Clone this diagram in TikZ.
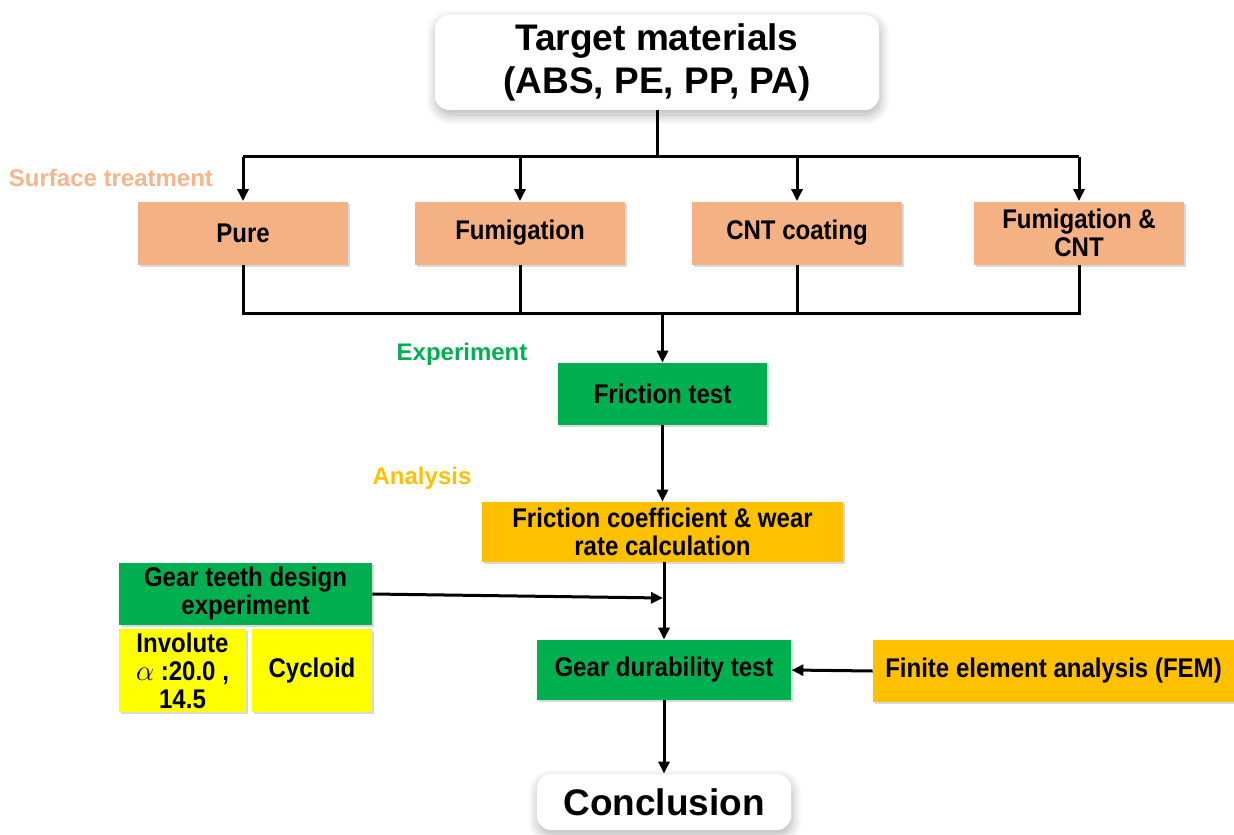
\documentclass[tikz,border=0pt]{standalone}
\usepackage{fontspec}
\setmainfont{Liberation Sans}
\newfontfamily\condfont{Liberation Sans}[FakeStretch=0.89]
\usetikzlibrary{arrows.meta,shadows,shadows.blur}
\definecolor{boxorange}{HTML}{F4B183}
\definecolor{boxgreen}{HTML}{00B050}
\definecolor{boxgold}{HTML}{FFC000}
\definecolor{boxyellow}{HTML}{FFFF00}
\definecolor{lblorange}{HTML}{F6B58C}
\begin{document}
\begin{tikzpicture}[x=0.5pt,y=-0.5pt,
  conn/.style={line width=1.5pt,black},
  arr/.style={conn,-{Triangle[length=6pt,width=5.5pt]}},
  basebox/.style={inner sep=0pt,align=center,font=\condfont\bfseries\fontsize{13.5pt}{14pt}\selectfont,
     drop shadow={opacity=0.3,shadow xshift=0.8pt,shadow yshift=-1.2pt}},
  orangebox/.style={basebox,fill=boxorange,minimum width=105pt,minimum height=31.5pt},
  greenbox/.style={basebox,fill=boxgreen},
  goldbox/.style={basebox,fill=boxgold},
  yellowbox/.style={basebox,fill=boxyellow},
  whitebox/.style={inner sep=0pt,align=center,fill=white,rounded corners=7pt,
     font=\bfseries\fontsize{18.5pt}{21.5pt}\selectfont,
     blur shadow={shadow blur steps=12,shadow xshift=0.5pt,shadow yshift=-2.5pt,
       shadow blur radius=5pt,shadow opacity=30}},
  lbl/.style={inner sep=0pt,font=\bfseries\fontsize{12pt}{14pt}\selectfont}
]
\useasboundingbox (0,0) rectangle (1234,834);

% top
\node[whitebox,minimum width=222pt,minimum height=47.5pt] (top) at (657,62.5)
  {Target materials\\(ABS, PE, PP, PA)};

% surface treatment
\node[lbl,text=lblorange] (st) at (111,178) {Surface treatment};
\node[orangebox] (pure) at (243,233) {Pure};
\node[orangebox] (fum) at (520,233) {Fumigation};
\node[orangebox] (cnt) at (797,233) {CNT coating};
\node[orangebox] (fcnt) at (1079,233) {Fumigation \&\\CNT};

% experiment
\node[lbl,text=boxgreen] (exp) at (462,354) {Experiment};
\node[greenbox,minimum width=104.5pt,minimum height=31pt] (ft) at (662.5,394) {Friction test};

% analysis
\node[lbl,text=boxgold] (ana) at (422,478) {Analysis};
\node[goldbox,minimum width=180.5pt,minimum height=30pt] (coef) at (662.5,532)
  {Friction coefficient \& wear\\rate calculation};

% gear teeth
\node[greenbox,minimum width=126.5pt,minimum height=31pt] (gt) at (245.5,594)
  {Gear teeth design\\experiment};
\node[yellowbox,minimum width=63.5pt,minimum height=41.5pt] (inv) at (182.5,670.5)
  {Involute\\$\alpha$ :20.0 ,\\14.5};
\node[yellowbox,minimum width=60pt,minimum height=41.5pt] (cyc) at (312,670.5) {Cycloid};

% durability
\node[greenbox,minimum width=127pt,minimum height=30pt] (gd) at (664,670) {Gear durability test};
\node[goldbox,minimum width=180.5pt,minimum height=31pt] (fem) at (1053.5,671)
  {Finite element analysis (FEM)};

% conclusion
\node[whitebox,minimum width=127pt,minimum height=28pt] (con) at (664,802) {Conclusion};

% connectors
\coordinate (busA) at (657,157);
\coordinate (busB) at (662.5,313);
\draw[conn] (top.south) -- (busA);
\draw[conn] (pure.north |- busA) -- (fcnt.north |- busA);
\foreach \n in {pure,fum,cnt,fcnt}{
  \draw[arr] (\n.north |- busA) -- (\n.north);
}
\draw[conn] (pure.south) -- (pure.south |- busB) -- (fcnt.south |- busB) -- (fcnt.south);
\draw[conn] (fum.south) -- (fum.south |- busB);
\draw[conn] (cnt.south) -- (cnt.south |- busB);
\draw[arr] (busB) -- (ft.north);
\draw[arr] (ft.south) -- (coef.north);
\coordinate (jn) at (663,598);
\draw[arr] (gt.east) -- (jn);
\draw[arr] (coef.south -| gd.north) -- (gd.north);
\draw[arr] (fem.west) -- (gd.east);
\draw[arr] (gd.south) -- (con.north);
\end{tikzpicture}
\end{document}
